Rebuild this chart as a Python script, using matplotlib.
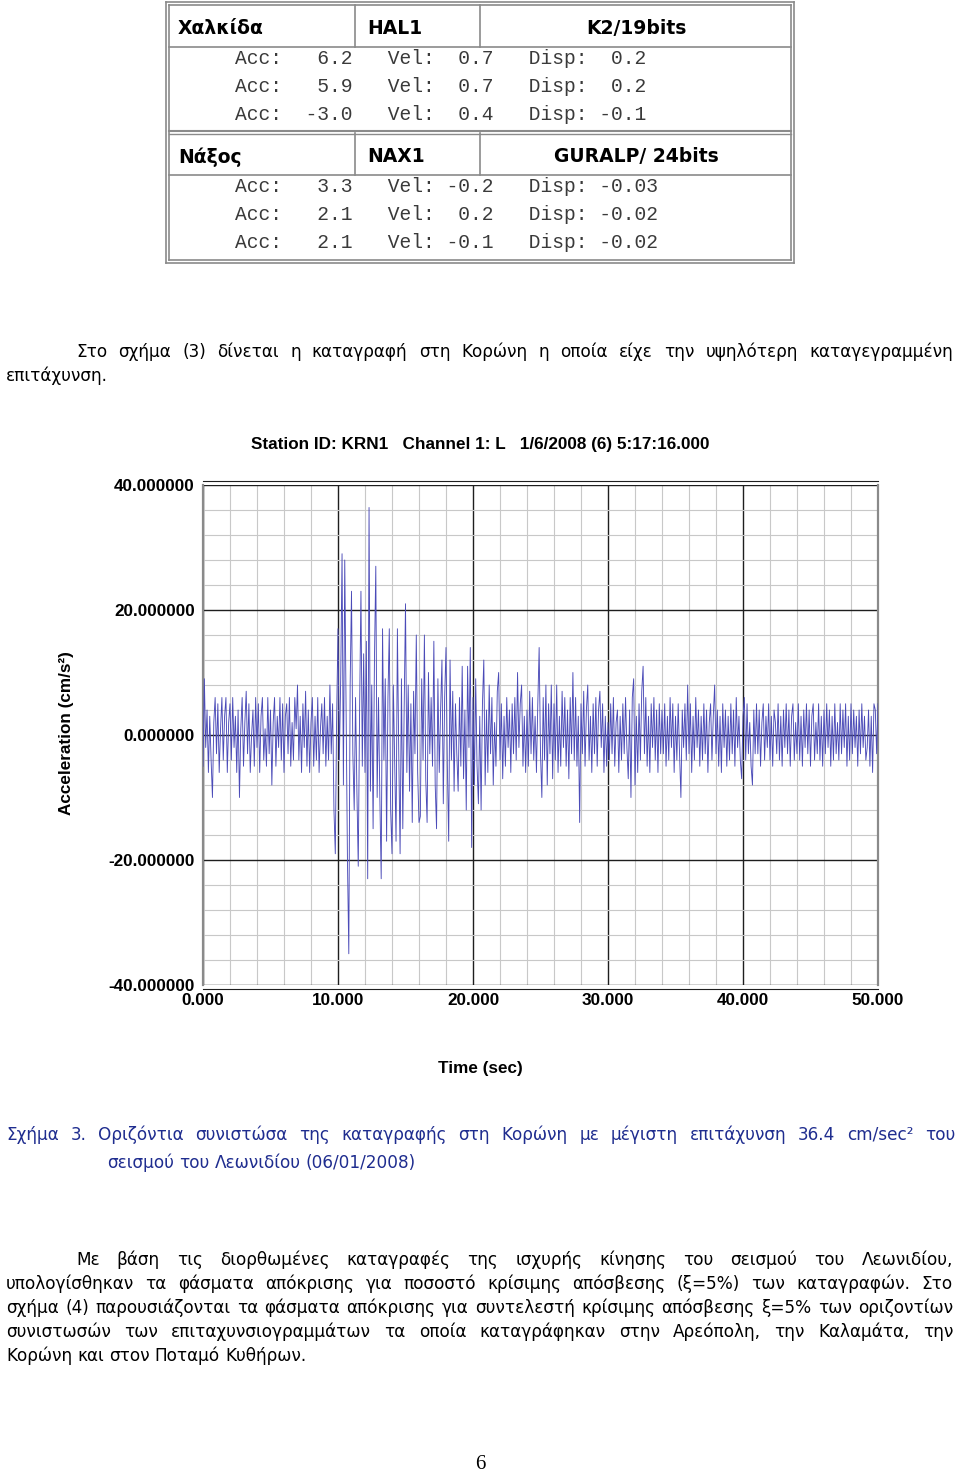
import numpy as np
import matplotlib
matplotlib.use('Agg')
import matplotlib.pyplot as plt
from matplotlib.lines import Line2D
from matplotlib.transforms import Affine2D

# ---- table data ----
chalkida_acc = [6.2, 5.9, -3.0]
chalkida_vel = [0.7, 0.7, 0.4]
chalkida_disp = [0.2, 0.2, -0.1]
naxos_acc = [3.3, 2.1, 2.1]
naxos_vel = [-0.2, 0.2, -0.1]
naxos_disp = [-0.03, -0.02, -0.02]

# ---- seismogram (KRN1, channel L), one value every 0.1 s ----
dt = 0.1
acc = [
    -5, 9, -2, 4, -6, 3, -4, -10, 2, 6,
    -3, 5, -6, 1, 6, -4, 3, 6, -6, 2,
    5, -4, 6, -2, 3, -6, 4, -10, 1, 6,
    -5, 2, 7, -3, 5, -6, 0, 4, -5, 6,
    -2, 5, -6, 3, 6, -4, 1, -5, 6, -3,
    4, -8, 2, 6, -5, 3, -2, 6, -4, 5,
    -6, 3, 5, -3, 6, -5, 2, -4, 6, 1,
    8, -4, 3, -6, 5, -2, 7, -5, 4, -6,
    2, 6, -5, 3, -4, 6, -6, 1, 5, -3,
    6, -5, 3, -4, 8, -3, 5, -12, -19, 3,
    17, -4, 9, 29, -8, 28, 4, -20, -35, 8,
    23, -3, -12, 6, -9, -21, 4, 23, -5, 13,
    -6, 15, -23, 36.4, -9, 8, -15, 12, 27, -10,
    6, -10, -23, 17, -4, 9, -17, 6, 17, -12,
    -19, 8, -5, -17, 17, -3, -19, 9, -15, 4,
    21, -6, 8, -9, 5, -14, 7, -3, 16, -6,
    -14, -13, 9, -4, 16, -7, -14, 10, -3, 6,
    -5, 15, -8, -15, 9, -6, 4, 12, -11, 6,
    14, -5, -17, 12, -4, 7, -9, 5, -3, -9,
    6, -5, 11, -7, 4, -12, 11, -2, 14, -18,
    6, -8, 9, -5, -11, 3, -12, 5, 12, -8,
    4, -6, 8, -3, 6, -8, 2, -5, 7, 10,
    -4, 5, -7, 3, -5, 6, -2, 4, -6, 5,
    -3, 6, -4, 10, -2, 5, 8, -5, 3, -6,
    4, -5, 7, -3, 6, -4, 3, -6, 5, 14,
    -3, -10, 6, -4, 8, -8, 5, -3, 8, -7,
    5, -4, 8, -6, 3, -5, 7, -2, 6, -5,
    4, -7, 6, -3, 10, -4, 6, -5, 3, -14,
    5, -3, 7, -5, 4, 8, -4, 3, -6, 5,
    -3, 6, -5, 4, 7, -2, 5, -6, 3, -5,
    2, -4, 5, -3, 6, -5, 2, 4, -6, 3,
    -4, 5, -3, 6, -2, -7, 4, -10, 6, 9,
    -8, 3, -6, 5, -4, 7, 11, -3, 6, -5,
    3, -6, 5, -2, 6, -4, 4, -6, 5, -3,
    4, -3, 5, -5, 3, -4, 6, -2, 5, -6,
    3, -4, 5, -3, -10, 4, -2, 5, -4, 8,
    -3, 5, -6, 3, -4, 6, -2, 4, -5, 3,
    -4, 5, -3, 4, -6, 2, 5, -4, 3, 8,
    -3, 4, -5, 3, -6, 5, -2, 4, -5, 3,
    -4, 5, -3, 4, -5, 6, -2, 3, -4, -7,
    3, 6, -4, 5, -3, 2, -5, -8, 4, -3,
    5, -3, 4, -5, 2, 5, -4, 3, -2, 5,
    -4, 3, -5, 4, 2, -3, 5, -4, 3, -5,
    4, -2, 5, -3, 4, -5, 3, 5, -4, 2,
    -3, 5, -4, 3, -5, 4, -2, 5, -3, 4,
    -5, 3, 5, -4, 2, -3, 5, -4, 3, -5,
    4, -3, 5, -2, 4, -5, 3, -4, 5, -3,
    2, -4, 5, -3, 4, -2, 5, -5, 3, -4,
    5, -3, 4, -2, 3, -5, 4, -3, 5, -2,
    3, -4, -2, 4, -5, 3, -6, 5, 4, -3,
    5,
]
t = np.arange(len(acc)) * dt
x_ticks = [0, 10, 20, 30, 40, 50]
y_ticks = [-40, -20, 0, 20, 40]

W, H = 960, 1474
fig = plt.figure(figsize=(W / 100, H / 100), dpi=100)
px = Affine2D().scale(1 / W, -1 / H).translate(0, 1) + fig.transFigure
renderer = fig.canvas.get_renderer()

body_font = ['DejaVu Sans']
chart_font = ['Liberation Sans', 'DejaVu Sans']
chart_kw = dict(fontsize=12.3, fontweight='bold', family=chart_font)


def hline(x0, x1, y, color='#8a8a8a', lw=1.2):
    fig.add_artist(Line2D([x0, x1], [y, y], transform=px, color=color, lw=lw))


def vline(x, y0, y1, color='#8a8a8a', lw=1.2):
    fig.add_artist(Line2D([x, x], [y0, y1], transform=px, color=color, lw=lw))


def words_line(text, x0, x1, y, justify=True, size=12.2, color='black'):
    # place words one by one so the line is justified between x0 and x1
    words = text.split()
    arts = [fig.text(0, y, w, transform=px, va='baseline', ha='left',
                     fontsize=size, family=body_font, color=color) for w in words]
    widths = [a.get_window_extent(renderer).width for a in arts]
    if justify and len(words) > 1:
        gap = (x1 - x0 - sum(widths)) / (len(words) - 1)
    else:
        gap = size * 0.42
    x = x0
    for a, wd in zip(arts, widths):
        a.set_x(x)
        x += wd + gap


# ---- table ----
for off in (0, 3):
    hline(166 + off, 794 - off, 2 + off)
    hline(166 + off, 794 - off, 263 - off)
    vline(166 + off, 2 + off, 263 - off)
    vline(794 - off, 2 + off, 263 - off)
for top, bot in ((5, 47), (133, 175)):
    hline(169, 791, bot)
    vline(355, top, bot)
    vline(480, top, bot)
hline(169, 791, 131, lw=1.5)
hline(169, 791, 134, lw=1.0)


def table_block(y_head, names, acc_v, vel_v, disp_v, prec):
    head_kw = dict(transform=px, va='center', fontsize=13.5, fontweight='bold', family=body_font)
    fig.text(178, y_head, names[0], ha='left', **head_kw)
    fig.text(367, y_head, names[1], ha='left', **head_kw)
    fig.text(636, y_head, names[2], ha='center', **head_kw)
    for i, (a, v, d) in enumerate(zip(acc_v, vel_v, disp_v)):
        row = f"Acc: {a:5.1f}   Vel: {v:4.1f}   Disp: {d:{prec + 3}.{prec}f}"
        fig.text(235, y_head + 30 + 28 * i, row, transform=px, va='center',
                 ha='left', fontsize=14.1, family=['Liberation Mono', 'DejaVu Sans Mono'],
                 color='#3a3a3a')


table_block(29, ['Χαλκίδα', 'HAL1', 'K2/19bits'], chalkida_acc, chalkida_vel, chalkida_disp, 1)
table_block(157, ['Νάξος', 'NAX1', 'GURALP/ 24bits'], naxos_acc, naxos_vel, naxos_disp, 2)

# ---- paragraph before figure ----
words_line('Στο σχήμα (3) δίνεται η καταγραφή στη Κορώνη η οποία είχε την υψηλότερη καταγεγραμμένη',
           76, 953, 357)
words_line('επιτάχυνση.', 6, 953, 381, justify=False)

# ---- seismogram chart ----
ax = fig.add_axes([203 / W, 1 - 985 / H, 675 / W, 500 / H])
# spines first: moving a spine resets the ticks of its axis
for s in ('left', 'right'):
    ax.spines[s].set_color('#8a8a8a')
    ax.spines[s].set_linewidth(1.6)
for s in ('top', 'bottom'):
    ax.spines[s].set_position(('outward', 3))
    ax.spines[s].set_color('#1e1e1e')

ax.plot(t, acc, color='#4b4bb8', lw=0.65, zorder=3)
ax.set_xlim(0, 50)
ax.set_ylim(-40, 40)
ax.set_xticks(x_ticks, labels=[f'{v:.3f}' for v in x_ticks], **chart_kw)
ax.set_yticks(y_ticks, labels=[f'{v:.6f}' for v in y_ticks], **chart_kw)
ax.set_xticks(np.arange(0, 51, 2), minor=True)
ax.set_yticks(np.arange(-40, 41, 4), minor=True)
ax.grid(which='minor', color='#c8c8c8', lw=0.8)
ax.grid(which='major', color='#1e1e1e', lw=1.0)
ax.set_axisbelow(True)
ax.tick_params(which='both', length=0)
ax.tick_params(axis='y', pad=6)
ax.tick_params(axis='x', pad=3)

fig.text(480, 444, 'Station ID: KRN1   Channel 1: L   1/6/2008 (6) 5:17:16.000', transform=px,
         ha='center', va='center', **chart_kw)
fig.text(66, 733, 'Acceleration (cm/s²)', transform=px, rotation=90, ha='center', va='center',
         **chart_kw)
fig.text(480, 1069, 'Time (sec)', transform=px, ha='center', va='center', **chart_kw)

# ---- caption ----
cap = '#1f2d8f'
words_line('Σχήμα 3. Οριζόντια συνιστώσα της καταγραφής στη Κορώνη με μέγιστη επιτάχυνση 36.4 cm/sec² του',
           6, 955, 1140, color=cap)
words_line('σεισμού του Λεωνιδίου (06/01/2008)', 107, 955, 1168, justify=False, color=cap)

# ---- paragraph after figure ----
words_line('Με βάση τις διορθωμένες καταγραφές της ισχυρής κίνησης του σεισμού του Λεωνιδίου,',
           76, 953, 1265)
words_line('υπολογίσθηκαν τα φάσματα απόκρισης για ποσοστό κρίσιμης απόσβεσης (ξ=5%) των καταγραφών. Στο',
           6, 953, 1289)
words_line('σχήμα (4) παρουσιάζονται τα φάσματα απόκρισης για συντελεστή κρίσιμης απόσβεσης ξ=5% των οριζοντίων',
           6, 953, 1313)
words_line('συνιστωσών των επιταχυνσιογραμμάτων τα οποία καταγράφηκαν στην Αρεόπολη, την Καλαμάτα, την',
           6, 953, 1337)
words_line('Κορώνη και στον Ποταμό Κυθήρων.', 6, 953, 1361, justify=False)

fig.text(480, 1465, '6', transform=px, ha='center', va='center', fontsize=15,
         family=['Liberation Serif', 'DejaVu Serif'])

fig.savefig('out.png', dpi=100)
